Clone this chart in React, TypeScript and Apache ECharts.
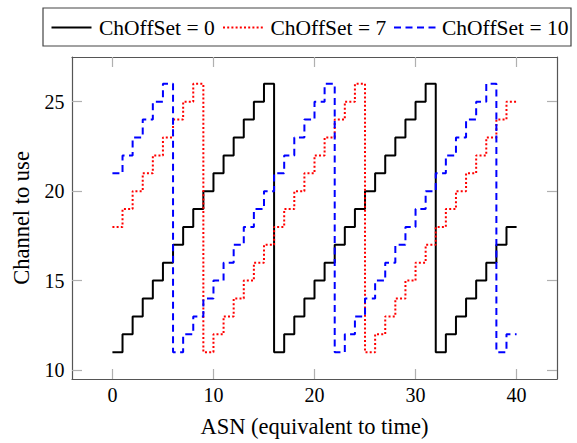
import React, { useEffect, useRef } from "react";
import * as echarts from "echarts";

const asn: number[] = [0,1,2,3,4,5,6,7,8,9,10,11,12,13,14,15,16,17,18,19,20,21,22,23,24,25,26,27,28,29,30,31,32,33,34,35,36,37,38,39,40];
const chOffset0: number[] = [11,12,13,14,15,16,17,18,19,20,21,22,23,24,25,26,11,12,13,14,15,16,17,18,19,20,21,22,23,24,25,26,11,12,13,14,15,16,17,18,18];
const chOffset7: number[] = [18,19,20,21,22,23,24,25,26,11,12,13,14,15,16,17,18,19,20,21,22,23,24,25,26,11,12,13,14,15,16,17,18,19,20,21,22,23,24,25,25];
const chOffset10: number[] = [21,22,23,24,25,26,11,12,13,14,15,16,17,18,19,20,21,22,23,24,25,26,11,12,13,14,15,16,17,18,19,20,21,22,23,24,25,26,11,12,12];
const seriesNames: string[] = ["ChOffSet = 0", "ChOffSet = 7", "ChOffSet = 10"];
const seriesColors: string[] = ["#000000", "#ff0000", "#0000ff"];
const xTicks: number[] = [0, 10, 20, 30, 40];
const yTicks: number[] = [10, 15, 20, 25];

const FONT = '"Liberation Serif"';

export default function App() {
  const ref = useRef<HTMLDivElement>(null);
  useEffect(() => {
    if (!ref.current) return;
    const chart = echarts.init(ref.current, undefined, { renderer: "svg" });
    const pairs = (ys: number[]) => asn.map((x, i) => [x, ys[i]]);
    const axisLine = { show: true, onZero: false, lineStyle: { color: "#555", width: 1.2 } };
    const tick = { show: true, inside: true, length: 10, lineStyle: { color: "#b0b0b0", width: 1.2 } };
    const dashes: any[] = ["solid", [2, 2.2], [7, 4.5]];

    const legendItems = [
      { x1: 51.5, x2: 91.5, tx: 99 },
      { x1: 223, x2: 264, tx: 270.5 },
      { x1: 394, x2: 436, tx: 442 },
    ];
    const ly = 27.5;
    const graphic: any[] = [
      {
        type: "rect",
        shape: { x: 43, y: 8, width: 528, height: 38 },
        style: { fill: "#fff", stroke: "#444", lineWidth: 1.2 },
        silent: true,
      },
    ];
    legendItems.forEach((l, i) => {
      graphic.push({
        type: "line",
        shape: { x1: l.x1, y1: ly, x2: l.x2, y2: ly },
        style: {
          stroke: seriesColors[i],
          lineWidth: 2,
          lineDash: dashes[i] === "solid" ? null : dashes[i],
        },
        silent: true,
      });
      graphic.push({
        type: "text",
        x: l.tx,
        y: 28,
        style: {
          text: seriesNames[i],
          fill: "#000",
          font: `21.5px ${FONT}`,
          verticalAlign: "middle",
        },
        silent: true,
      });
    });

    chart.setOption({
      animation: false,
      backgroundColor: "#fff",
      textStyle: { fontFamily: FONT },
      graphic,
      grid: { left: 72, right: 20, top: 57, bottom: 61 },
      xAxis: [
        {
          type: "value",
          min: -4,
          max: 44,
          position: "bottom",
          axisLine,
          axisTick: { ...tick, customValues: xTicks },
          splitLine: { show: false },
          axisLabel: {
            fontFamily: FONT,
            fontSize: 20,
            color: "#000",
            margin: 6,
            customValues: xTicks,
          },
          name: "ASN (equivalent to time)",
          nameLocation: "middle",
          nameGap: 36,
          nameTextStyle: { fontFamily: FONT, fontSize: 22.5, color: "#000" },
        },
        {
          type: "value",
          min: -4,
          max: 44,
          position: "top",
          axisLine,
          axisTick: { ...tick, customValues: xTicks },
          axisLabel: { show: false },
          splitLine: { show: false },
        },
      ],
      yAxis: [
        {
          type: "value",
          min: 9.5,
          max: 27.5,
          position: "left",
          axisLine,
          axisTick: { ...tick, customValues: yTicks },
          splitLine: { show: false },
          axisLabel: {
            fontFamily: FONT,
            fontSize: 20,
            color: "#000",
            margin: 7.5,
            customValues: yTicks,
          },
          name: "Channel to use",
          nameLocation: "middle",
          nameGap: 39,
          nameTextStyle: { fontFamily: FONT, fontSize: 22.5, color: "#000" },
        },
        {
          type: "value",
          min: 9.5,
          max: 27.5,
          position: "right",
          axisLine,
          axisTick: { ...tick, customValues: yTicks },
          axisLabel: { show: false },
          splitLine: { show: false },
        },
      ],
      series: [chOffset0, chOffset7, chOffset10].map((ys, i) => ({
        name: seriesNames[i],
        type: "line",
        step: "end",
        symbol: "none",
        data: pairs(ys),
        color: seriesColors[i],
        lineStyle: { color: seriesColors[i], width: 2, type: dashes[i] },
      })),
    });
    return () => chart.dispose();
  }, []);
  return (
    <div
      ref={ref}
      style={{ position: "absolute", left: 0, top: 0, width: 577, height: 443 }}
    />
  );
}
